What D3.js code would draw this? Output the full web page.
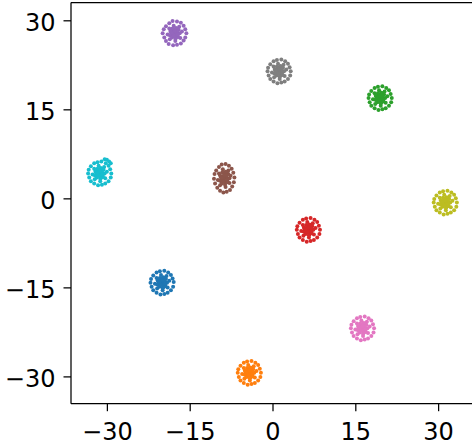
<!DOCTYPE html>
<html>
<head>
<meta charset="utf-8">
<script src="https://cdn.jsdelivr.net/npm/d3@7"></script>
<style>
  html, body { margin: 0; padding: 0; background: #fff; }
  svg { display: block; }
</style>
</head>
<body>
<svg id="chart" width="472" height="446"></svg>
<script>
// ---- data ----
const xTicks = [-30, -15, 0, 15, 30];
const yTicks = [-30, -15, 0, 15, 30];
const clusterNames = ["c0","c1","c2","c3","c4","c5","c6","c7","c8","c9"];
const clusterColors = ["#1f77b4","#ff7f0e","#2ca02c","#d62728","#9467bd","#8c564b","#e377c2","#7f7f7f","#bcbd22","#17becf"];

const c0 = [ // blue
[-17.9,-14.1],[-18.1,-13.5],[-18.4,-12.9],[-18.9,-12.5],[-19.6,-12.2],[-20.4,-12.3],[-21.0,-12.5],[-21.6,-13.0],[-22.0,-13.6],[-22.1,-14.2],[-21.9,-14.9],[-21.6,-15.5],[-21.0,-15.9],[-20.3,-16.2],[-19.6,-16.1],[-19.0,-15.9],[-18.4,-15.5],[-18.0,-14.9],
[-18.7,-13.9],[-19.2,-13.1],[-20.2,-12.9],[-21.0,-13.4],[-21.3,-14.4],[-20.9,-15.2],[-19.9,-15.5],[-19.0,-15.0],[-19.5,-13.6],[-20.6,-14.6],
[-20.0,-14.2],[-19.7,-14.0],[-20.3,-13.9],[-19.8,-14.6],[-20.4,-14.4],[-19.4,-14.3],[-20.1,-13.6],[-19.6,-13.4],[-20.7,-14.0],[-19.8,-15.0],
[-19.1,-14.2],[-19.3,-13.6],[-19.8,-13.3],[-20.4,-13.4],[-20.8,-13.8],[-20.9,-14.5],[-20.5,-14.9],[-19.9,-15.1],[-19.4,-14.8],[-19.6,-13.9],[-20.2,-14.6],[-19.5,-14.4],[-20.5,-14.1],[-20.0,-13.8]];
const c1 = [ // orange
[-2.1,-29.4],[-2.3,-28.7],[-2.6,-28.1],[-3.1,-27.7],[-3.8,-27.4],[-4.6,-27.5],[-5.2,-27.7],[-5.8,-28.2],[-6.2,-28.8],[-6.3,-29.4],[-6.1,-30.1],[-5.8,-30.7],[-5.2,-31.1],[-4.5,-31.4],[-3.8,-31.3],[-3.2,-31.1],[-2.6,-30.7],[-2.2,-30.1],
[-2.9,-29.1],[-3.4,-28.3],[-4.4,-28.1],[-5.2,-28.6],[-5.5,-29.6],[-5.1,-30.4],[-4.1,-30.7],[-3.2,-30.2],[-3.7,-28.8],[-4.8,-29.8],
[-4.2,-29.4],[-3.9,-29.2],[-4.5,-29.1],[-4.0,-29.8],[-4.6,-29.6],[-3.6,-29.5],[-4.3,-28.8],[-3.8,-28.6],[-4.9,-29.2],[-4.0,-30.2],
[-3.3,-29.4],[-3.5,-28.8],[-4.0,-28.5],[-4.6,-28.6],[-5.0,-29.0],[-5.1,-29.7],[-4.7,-30.1],[-4.1,-30.3],[-3.6,-30.0],[-3.8,-29.1],[-4.4,-29.8],[-3.7,-29.6],[-4.7,-29.3],[-4.2,-29.0]];
const c2 = [ // green
[21.6,16.9],[21.4,17.6],[21.1,18.2],[20.6,18.6],[19.9,18.9],[19.1,18.8],[18.5,18.6],[17.9,18.1],[17.5,17.5],[17.4,16.9],[17.6,16.2],[17.9,15.6],[18.5,15.2],[19.2,14.9],[19.9,15.0],[20.5,15.2],[21.1,15.6],[21.5,16.2],
[20.8,17.2],[20.3,18.0],[19.3,18.2],[18.5,17.7],[18.2,16.7],[18.6,15.9],[19.6,15.6],[20.5,16.1],[20.0,17.5],[18.9,16.5],
[19.5,16.9],[19.8,17.1],[19.2,17.2],[19.7,16.5],[19.1,16.7],[20.1,16.8],[19.4,17.5],[19.9,17.7],[18.8,17.1],[19.7,16.1],
[20.4,16.9],[20.2,17.5],[19.7,17.8],[19.1,17.7],[18.7,17.3],[18.6,16.6],[19.0,16.2],[19.6,16.0],[20.1,16.3],[19.9,17.2],[19.3,16.5],[20.0,16.7],[19.0,17.0],[19.5,17.3]];
const c3 = [ // red
[8.6,-5.3],[8.4,-4.6],[8.1,-4.0],[7.6,-3.6],[6.9,-3.3],[6.1,-3.4],[5.5,-3.6],[4.9,-4.1],[4.5,-4.7],[4.4,-5.3],[4.6,-6.0],[4.9,-6.6],[5.5,-7.0],[6.2,-7.3],[6.9,-7.2],[7.5,-7.0],[8.1,-6.6],[8.5,-6.0],
[7.8,-5.0],[7.3,-4.2],[6.3,-4.0],[5.5,-4.5],[5.2,-5.5],[5.6,-6.3],[6.6,-6.6],[7.5,-6.1],[7.0,-4.7],[5.9,-5.7],
[6.5,-5.3],[6.8,-5.1],[6.2,-5.0],[6.7,-5.7],[6.1,-5.5],[7.1,-5.4],[6.4,-4.7],[6.9,-4.5],[5.8,-5.1],[6.7,-6.1],
[7.4,-5.3],[7.2,-4.7],[6.7,-4.4],[6.1,-4.5],[5.7,-4.9],[5.6,-5.6],[6.0,-6.0],[6.6,-6.2],[7.1,-5.9],[6.9,-5.0],[6.3,-5.7],[7.0,-5.5],[6.0,-5.2],[6.5,-4.9]];
const c4 = [ // purple
[-15.6,27.8],[-15.8,28.5],[-16.1,29.1],[-16.6,29.6],[-17.3,29.8],[-18.1,29.9],[-18.7,29.5],[-19.3,29.0],[-19.7,28.5],[-19.9,27.8],[-19.6,27.1],[-19.3,26.5],[-18.8,26.0],[-18.0,25.8],[-17.3,25.9],[-16.6,26.1],[-16.1,26.6],[-15.8,27.1],
[-16.4,28.1],[-16.9,28.9],[-17.9,29.1],[-18.7,28.6],[-19.0,27.6],[-18.6,26.8],[-17.6,26.5],[-16.7,27.0],[-17.2,28.4],[-18.3,27.4],
[-17.7,27.8],[-17.4,28.0],[-18.0,28.1],[-17.5,27.4],[-18.1,27.6],[-17.1,27.7],[-17.8,28.4],[-17.3,28.6],[-18.4,28.0],[-17.5,27.0],
[-16.8,27.8],[-17.0,28.4],[-17.5,28.7],[-18.1,28.6],[-18.5,28.2],[-18.6,27.5],[-18.2,27.1],[-17.6,26.9],[-17.1,27.2],[-17.3,28.1],[-17.9,27.4],[-17.2,27.6],[-18.2,27.9],[-17.7,28.2]];
const c5 = [ // brown
[-6.9,3.5],[-7.1,4.3],[-7.4,5.0],[-7.9,5.5],[-8.5,5.8],[-9.2,5.7],[-9.7,5.3],[-10.2,4.7],[-10.5,4.1],[-10.6,3.3],[-10.4,2.5],[-10.0,1.8],[-9.5,1.3],[-8.9,1.0],[-8.3,1.1],[-7.7,1.4],[-7.3,2.0],[-7.0,2.7],
[-7.6,3.8],[-8.0,4.7],[-9.0,4.9],[-9.7,4.2],[-9.9,3.1],[-9.5,2.2],[-8.5,1.9],[-7.8,2.6],[-8.3,4.1],[-9.3,2.9],
[-8.7,3.4],[-8.4,3.6],[-9.0,3.7],[-8.5,2.9],[-9.1,3.1],[-8.1,3.3],[-8.8,4.2],[-8.3,4.4],[-9.4,3.6],[-8.6,2.6],
[-7.8,3.4],[-8.0,4.1],[-8.5,4.5],[-9.1,4.4],[-9.5,3.9],[-9.6,3.0],[-9.2,2.5],[-8.6,2.3],[-8.1,2.7],[-8.3,3.8],[-8.9,2.9],[-8.2,3.1],[-9.2,3.5],[-8.7,3.9]];
const c6 = [ // pink
[18.4,-21.9],[18.2,-21.2],[17.9,-20.6],[17.4,-20.2],[16.7,-19.9],[15.9,-20.0],[15.3,-20.2],[14.7,-20.7],[14.3,-21.3],[14.2,-21.9],[14.4,-22.6],[14.7,-23.2],[15.3,-23.6],[16.0,-23.9],[16.7,-23.8],[17.3,-23.6],[17.9,-23.2],[18.3,-22.6],
[17.6,-21.6],[17.1,-20.8],[16.1,-20.6],[15.3,-21.1],[15.0,-22.1],[15.4,-22.9],[16.4,-23.2],[17.3,-22.7],[16.8,-21.3],[15.7,-22.3],
[16.3,-21.9],[16.6,-21.7],[16.0,-21.6],[16.5,-22.3],[15.9,-22.1],[16.9,-22.0],[16.2,-21.3],[16.7,-21.1],[15.6,-21.7],[16.5,-22.7],
[17.2,-21.9],[17.0,-21.3],[16.5,-21.0],[15.9,-21.1],[15.5,-21.5],[15.4,-22.2],[15.8,-22.6],[16.4,-22.8],[16.9,-22.5],[16.7,-21.6],[16.1,-22.3],[16.8,-22.1],[15.8,-21.8],[16.3,-21.5]];
const c7 = [ // gray
[3.3,21.4],[3.1,22.1],[2.8,22.7],[2.3,23.1],[1.6,23.4],[0.8,23.3],[0.2,23.1],[-0.4,22.6],[-0.8,22.0],[-0.9,21.4],[-0.7,20.7],[-0.4,20.1],[0.2,19.7],[0.9,19.4],[1.6,19.5],[2.2,19.7],[2.8,20.1],[3.2,20.7],
[2.5,21.7],[2.0,22.5],[1.0,22.7],[0.2,22.2],[-0.1,21.2],[0.3,20.4],[1.3,20.1],[2.2,20.6],[1.7,22.0],[0.6,21.0],
[1.2,21.4],[1.5,21.6],[0.9,21.7],[1.4,21.0],[0.8,21.2],[1.8,21.3],[1.1,22.0],[1.6,22.2],[0.5,21.6],[1.4,20.6],
[2.1,21.4],[1.9,22.0],[1.4,22.3],[0.8,22.2],[0.4,21.8],[0.3,21.1],[0.7,20.7],[1.3,20.5],[1.8,20.8],[1.6,21.7],[1.0,21.0],[1.7,21.2],[0.7,21.5],[1.2,21.8]];
const c8 = [ // olive
[33.4,-0.7],[33.2,0.0],[32.9,0.6],[32.4,1.0],[31.7,1.3],[30.9,1.2],[30.3,1.0],[29.7,0.5],[29.3,-0.1],[29.2,-0.7],[29.4,-1.4],[29.7,-2.0],[30.3,-2.4],[31.0,-2.7],[31.7,-2.6],[32.3,-2.4],[32.9,-2.0],[33.3,-1.4],
[32.6,-0.4],[32.1,0.4],[31.1,0.6],[30.3,0.1],[30.0,-0.9],[30.4,-1.7],[31.4,-2.0],[32.3,-1.5],[31.8,-0.1],[30.7,-1.1],
[31.3,-0.7],[31.6,-0.5],[31.0,-0.4],[31.5,-1.1],[30.9,-0.9],[31.9,-0.8],[31.2,-0.1],[31.7,0.1],[30.6,-0.5],[31.5,-1.5],
[32.2,-0.7],[32.0,-0.1],[31.5,0.2],[30.9,0.1],[30.5,-0.3],[30.4,-1.0],[30.8,-1.4],[31.4,-1.6],[31.9,-1.3],[31.7,-0.4],[31.1,-1.1],[31.8,-0.9],[30.8,-0.6],[31.3,-0.3]];
const c9 = [ // cyan
[-29.2,4.2],[-29.4,4.9],[-29.7,5.5],[-30.2,5.9],[-31.0,6.2],[-31.7,6.1],[-32.3,5.9],[-32.9,5.4],[-33.3,4.8],[-33.4,4.2],[-33.2,3.5],[-32.9,2.9],[-32.3,2.5],[-31.6,2.2],[-30.9,2.3],[-30.3,2.5],[-29.7,2.9],[-29.3,3.5],
[-30.4,6.6],[-30.0,6.5],[-29.6,6.2],[-29.3,5.9],
[-30.0,4.5],[-30.5,5.3],[-31.5,5.5],[-32.3,5.0],[-32.6,4.0],[-32.2,3.2],[-31.2,2.9],[-30.3,3.4],[-30.8,4.8],[-31.9,3.8],
[-31.3,4.2],[-31.0,4.4],[-31.6,4.5],[-31.1,3.8],[-31.7,4.0],[-30.7,4.1],[-31.4,4.8],[-30.9,5.0],[-32.0,4.4],[-31.1,3.4],
[-30.4,4.2],[-30.6,4.8],[-31.1,5.1],[-31.7,5.0],[-32.1,4.6],[-32.2,3.9],[-31.8,3.5],[-31.2,3.3],[-30.7,3.6],[-30.9,4.5],[-31.5,3.8],[-30.8,4.0],[-31.8,4.3],[-31.3,4.6]];
const clusters = [c0,c1,c2,c3,c4,c5,c6,c7,c8,c9];

// ---- layout ----
const svg = d3.select("#chart");
const mLeft = 71, mRight = 474, mTop = 2.5, mBottom = 403.7;
const x = d3.scaleLinear().domain([-36.5, 36.5]).range([mLeft, mRight]);
const y = d3.scaleLinear().domain([-34.6, 33.0]).range([mBottom, mTop]);
const font = "'DejaVu Sans', sans-serif";
const fmt = d => d < 0 ? "\u2212" + Math.abs(d) : String(d);

// points
clusters.forEach((pts, i) => {
  svg.append("g").attr("class", clusterNames[i])
    .selectAll("circle").data(pts).enter().append("circle")
    .attr("cx", d => x(d[0])).attr("cy", d => y(d[1]))
    .attr("r", 2).attr("fill", clusterColors[i]);
});

// axes
const xAxis = d3.axisBottom(x).tickValues(xTicks).tickSize(7.5).tickPadding(9).tickFormat(fmt);
const yAxis = d3.axisLeft(y).tickValues(yTicks).tickSize(7.5).tickPadding(8).tickFormat(fmt);

const gx = svg.append("g").attr("transform", `translate(0,${mBottom})`).call(xAxis);
const gy = svg.append("g").attr("transform", `translate(${mLeft},0)`).call(yAxis);
[gx, gy].forEach(g => {
  g.select(".domain").remove();
  g.selectAll(".tick line").attr("stroke", "#000").attr("stroke-width", 1.25);
  g.selectAll(".tick text").attr("fill", "#000").style("font-family", font).style("font-size", "24px");
});
gx.selectAll(".tick text").attr("dy", null).attr("y", 36).attr("dominant-baseline", "alphabetic");
gy.selectAll(".tick text").attr("dy", null).attr("y", 10).attr("dominant-baseline", "alphabetic");

// spines
svg.append("line").attr("x1", mLeft).attr("x2", 472).attr("y1", mBottom).attr("y2", mBottom)
  .attr("stroke", "#000").attr("stroke-width", 1.25);
svg.append("line").attr("x1", mLeft).attr("x2", mLeft).attr("y1", mTop).attr("y2", mBottom)
  .attr("stroke", "#000").attr("stroke-width", 1.25);
svg.append("line").attr("x1", mLeft).attr("x2", 472).attr("y1", mTop).attr("y2", mTop)
  .attr("stroke", "#000").attr("stroke-width", 1.25);
</script>
</body>
</html>
